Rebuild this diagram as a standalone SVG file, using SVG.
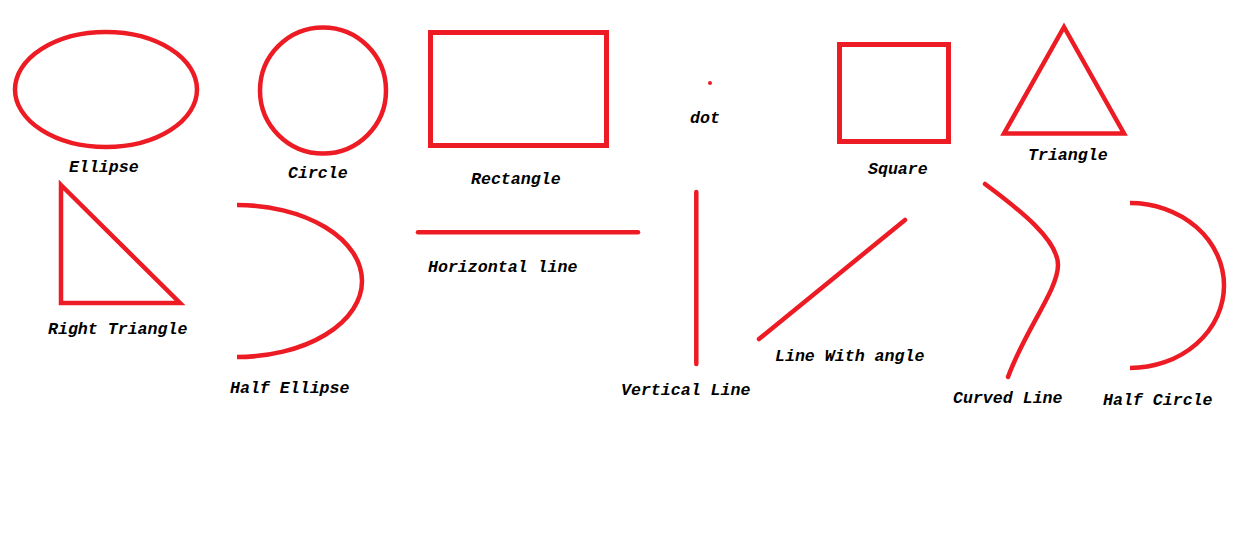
<svg xmlns="http://www.w3.org/2000/svg" width="1248" height="546" viewBox="0 0 1248 546">
<style>
.s{fill:none;stroke:#ED1C24;stroke-width:4.5;stroke-linecap:round;stroke-linejoin:miter}
.l{stroke-linecap:butt}
.t{font-family:"Liberation Mono","Courier New",monospace;font-size:16.6px;font-weight:bold;font-style:italic;fill:#000}
</style>
<rect width="1248" height="546" fill="#fff"/>
<g id="ellipse"><ellipse class="s" cx="106" cy="89.5" rx="91" ry="57.5"/><text class="t" x="69" y="172">Ellipse</text></g>
<g id="circle"><circle class="s" cx="323" cy="90.5" r="63"/><text class="t" x="288" y="178">Circle</text></g>
<g id="rectangle"><rect class="s" x="430.5" y="32.5" width="176" height="113" style="stroke-width:5"/><text class="t" x="471" y="184">Rectangle</text></g>
<g id="dot"><circle cx="710" cy="83" r="2" fill="#ED1C24"/><text class="t" x="690" y="123">dot</text></g>
<g id="square"><rect class="s" x="839.5" y="44.5" width="109" height="97" style="stroke-width:5"/><text class="t" x="868" y="174">Square</text></g>
<g id="triangle"><polygon class="s" points="1064,27 1124,133.5 1004,133.5"/><text class="t" x="1028" y="160">Triangle</text></g>
<g id="right-triangle"><polygon class="s" points="61,185 180,303 61,303"/><text class="t" x="48" y="334">Right Triangle</text></g>
<g id="half-ellipse"><path class="s l" d="M237,205 A125,76 0 0 1 237,357"/><text class="t" x="230" y="393">Half Ellipse</text></g>
<g id="horizontal-line"><line class="s" x1="418" y1="232.3" x2="638" y2="232.3"/><text class="t" x="428" y="272">Horizontal line</text></g>
<g id="vertical-line"><line class="s" x1="696.3" y1="192" x2="696.3" y2="364"/><text class="t" x="621" y="395">Vertical Line</text></g>
<g id="angle-line"><line class="s" x1="759" y1="339" x2="905" y2="220"/><text class="t" x="775" y="361">Line With angle</text></g>
<g id="curved-line"><path class="s" d="M985,184 C1020,210 1058,240 1058,265 C1058,290 1025,330 1008,377"/><text class="t" x="953" y="403">Curved Line</text></g>
<g id="half-circle"><path class="s l" d="M1130,203 A94,82.5 0 0 1 1130,368"/><text class="t" x="1103" y="405">Half Circle</text></g>
<g id="connectors"></g>
</svg>
